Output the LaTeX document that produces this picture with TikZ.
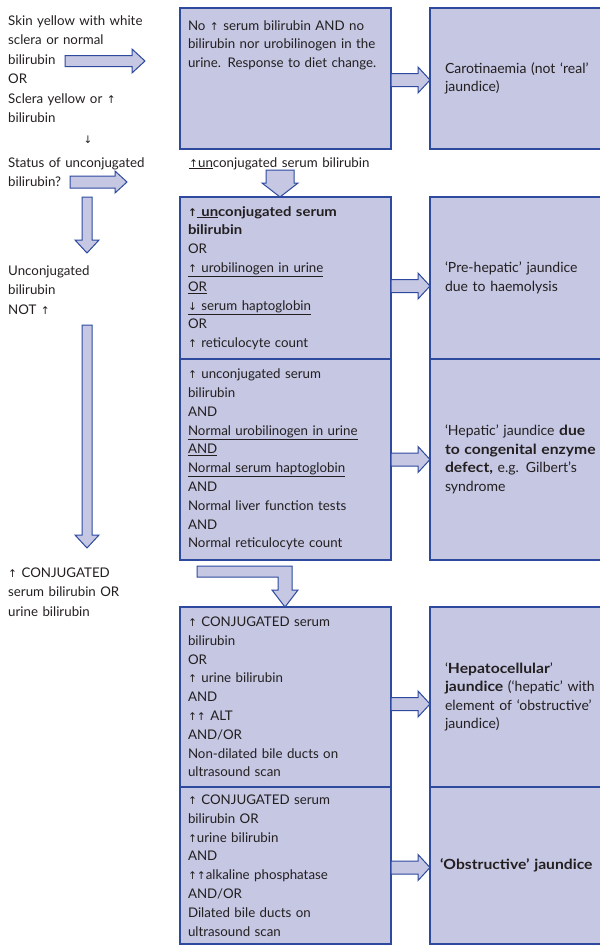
\documentclass[tikz,border=0pt]{standalone}
\usepackage{fontspec}
\setmainfont{Lato}[BoldFeatures={FakeStretch=1.12}]
\newfontfamily\arrowfont[Scale=0.8]{DejaVu Sans}
\usepackage{xcolor}
\usetikzlibrary{positioning,calc}
\definecolor{boxfill}{HTML}{C5C7E3}
\definecolor{boxline}{HTML}{2E4A9E}
\definecolor{inktext}{HTML}{231F20}

\newcommand{\uarr}{{\arrowfont ↑}}
\newcommand{\darr}{{\arrowfont ↓}}
% block arrows: start, tip, half shaft, half head, head length
\newcommand{\fatright}[5]{\draw[fat] ($(#1)+(0,-#3)$) -- ($(#2)+(-#5,-#3)$) -- ($(#2)+(-#5,-#4)$) -- (#2) -- ($(#2)+(-#5,#4)$) -- ($(#2)+(-#5,#3)$) -- ($(#1)+(0,#3)$) -- cycle;}
\newcommand{\fatdown}[5]{\draw[fat] ($(#1)+(-#3,0)$) -- ($(#2)+(-#3,-#5)$) -- ($(#2)+(-#4,-#5)$) -- (#2) -- ($(#2)+(#4,-#5)$) -- ($(#2)+(#3,-#5)$) -- ($(#1)+(#3,0)$) -- cycle;}

\begin{document}
\begin{tikzpicture}[
    x=1pt, y=-1pt,
    box/.style={draw=boxline, fill=boxfill, line width=1.1pt, outer sep=0pt, text=inktext, align=left},
    midbox/.style={box, text width=195pt, inner xsep=8pt, inner ysep=6pt, font=\fontsize{13.3}{18.8}\selectfont},
    rightbox/.style={box, text width=170pt, inner xsep=15pt, font=\fontsize{14}{18.6}\selectfont},
    lefttxt/.style={anchor=base west, inner sep=0pt, text width=180pt, align=left, text=inktext, font=\fontsize{13.3}{19.5}\selectfont},
    fat/.style={draw=boxline, fill=boxfill, line width=1pt, line join=miter}
]
\clip (0,0) rectangle (600,946);

% middle column
\node[midbox, anchor=north west, minimum height=141pt, text height=10pt, text depth=107pt, inner ysep=8pt] (u1) at (180,8)
  {No \uarr\ serum bilirubin AND no\\bilirubin nor urobilinogen in the\\urine. Response to diet change.};
\node[midbox, minimum height=162pt, below=48pt of u1] (u2)
  {\textbf{\uarr\underline{\ un}conjugated serum}\\\textbf{bilirubin}\\OR\\\underline{\uarr\ urobilinogen in urine}\\\underline{OR}\\\underline{\darr\ serum haptoglobin}\\OR\\\uarr\ reticulocyte count};
\node[midbox, minimum height=201pt, below=0pt of u2] (u3)
  {\uarr\ unconjugated serum\\bilirubin\\AND\\\underline{Normal urobilinogen in urine}\\\underline{AND}\\\underline{Normal serum haptoglobin}\\AND\\Normal liver function tests\\AND\\Normal reticulocyte count};
\node[midbox, minimum height=180pt, below=47pt of u3] (u4)
  {\uarr\ CONJUGATED serum\\bilirubin\\OR\\\uarr\ urine bilirubin\\AND\\\uarr\uarr\ ALT\\AND/OR\\Non-dilated bile ducts on\\ultrasound scan};
\node[midbox, minimum height=157pt, below=0pt of u4] (u5)
  {\uarr\ CONJUGATED serum\\bilirubin OR\\\uarr urine bilirubin\\AND\\\uarr\uarr alkaline phosphatase\\AND/OR\\Dilated bile ducts on\\ultrasound scan};

% right column
\node[rightbox, minimum height=141pt, right=39pt of u1] (r1) {Carotinaemia (not `real'\\jaundice)};
\node[rightbox, minimum height=162pt, right=39pt of u2] (r2) {`Pre-hepatic' jaundice\\due to haemolysis};
\node[rightbox, minimum height=201pt, right=39pt of u3] (r3)
  {`Hepatic' jaundice \textbf{due}\\\textbf{to congenital enzyme}\\\textbf{defect,} e.g. Gilbert's\\syndrome};
\node[rightbox, minimum height=180pt, right=39pt of u4] (r4)
  {`\textbf{Hepatocellular}'\\\textbf{jaundice} (`hepatic' with\\element of `obstructive'\\jaundice)};
\node[rightbox, minimum height=157pt, right=39pt of u5, inner xsep=10pt] (r5) {\textbf{`Obstructive' jaundice}};

% left column
\node[lefttxt] (skin) at (8,25) {Skin yellow with white\\sclera or normal\\bilirubin\\OR\\Sclera yellow or \uarr\\bilirubin};
\node[text=inktext, inner sep=0pt, font=\fontsize{13}{14}\selectfont] (dn) at (88,140) {\darr};
\node[lefttxt] (status) at (8,167) {Status of unconjugated\\bilirubin?};
\node[lefttxt] (notup) at (8,275) {Unconjugated\\bilirubin\\NOT \uarr};
\node[lefttxt] (conj) at (8,577) {\uarr\ CONJUGATED\\serum bilirubin OR\\urine bilirubin};
\node[lefttxt, text width=230pt] (lab) at (189,167) {\underline{\uarr un}conjugated serum bilirubin};

% block arrows
\coordinate (a1s) at (65,61);
\coordinate (a1e) at (145,61);
\coordinate (a2s) at (70,182);
\coordinate (a2e) at (127,182);
\coordinate (v1s) at (87,197);
\coordinate (v1e) at (87,253);
\coordinate (v2s) at (87,325);
\coordinate (v2e) at (87,548);
\coordinate (d1s) at (280,170);
\coordinate (d1e) at (d1s |- u2.north);
\fatright{a1s}{a1e}{5.5}{12}{13}
\fatright{a2s}{a2e}{6}{11}{12}
\fatdown{v1s}{v1e}{5}{12}{13}
\fatdown{v2s}{v2e}{5}{12}{13}
\fatdown{d1s}{d1e}{14}{18}{14}

\coordinate (e1) at ($(u1.east)+(0,1.5)$);
\coordinate (e2) at ($(u2.east)+(0,8)$);
\coordinate (e3) at (u3.east);
\coordinate (e4) at ($(u4.east)+(0,7)$);
\coordinate (e5) at ($(u5.east)+(0,2)$);
\fatright{e1}{e1 -| r1.west}{6.5}{13}{12}
\fatright{e2}{e2 -| r2.west}{6.5}{13}{12}
\fatright{e3}{e3 -| r3.west}{6.5}{13}{12}
\fatright{e4}{e4 -| r4.west}{6.5}{13}{12}
\fatright{e5}{e5 -| r5.west}{6.5}{13}{12}

% bent arrow into the lower boxes
\coordinate (b1) at ($(u3.south west)+(17,6)$);
\coordinate (b2) at ($(u4.north west)+(105,0)$);
\draw[fat] (b1) -- ++(95,0) -- ++(0,24) -- ++(6,0) -- (b2) -- ++(-13,-17) -- ++(6,0) -- ++(0,-13) -- ++(-81,0) -- cycle;
\end{tikzpicture}
\end{document}
